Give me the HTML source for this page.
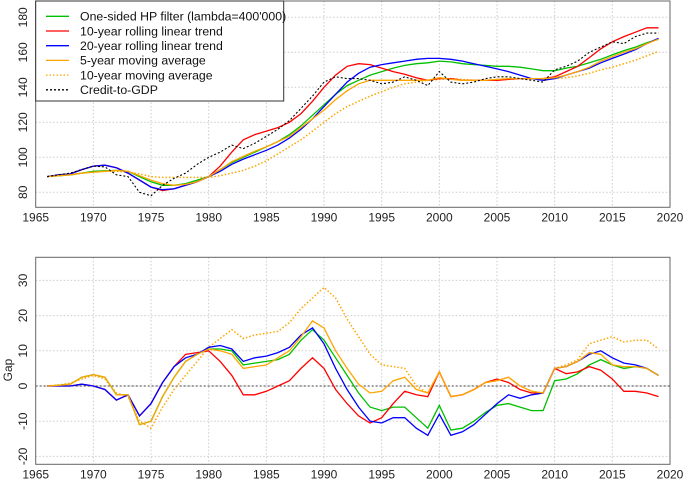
<!DOCTYPE html>
<html><head><meta charset="utf-8"><style>
body{margin:0;background:#fff}
svg{display:block;font-family:"Liberation Sans",sans-serif}
</style></head><body>
<svg id="c" width="685" height="481" viewBox="0 0 685 481"></svg>
<script>
const years=[];for(let y=1966;y<=2019;y++)years.push(y);
const xTicks=[1965,1970,1975,1980,1985,1990,1995,2000,2005,2010,2015,2020];
const yTicksTop=[80,100,120,140,160,180];
const yTicksBot=[-20,-10,0,10,20,30];
// Top panel (levels)
const credit=[89,90,91,93,95,94.5,90,89,80,78,84,88,91,96,100,103,107,105,108,112,116,121,128,135,143,146,145,145,144,142,143,146,144,141,149,143,142,143,145,146,146,145,144,143,150,152,155,160,163,166,165,169,171,171];
const hpTrend=[89,89.5,90,91,92,92.3,92.5,92,89,86,84,84,85,87,89,93,97,100,103,106,109,113,118,124,130,136,141,144,147,149,151,152.5,153.5,154,155,154.5,153.5,153,152.5,152,152,151.5,150.5,149.5,149.5,151,152,154,156,158.5,161,163,165.5,167.5];
const rl10Trend=[89,90,90.5,93,95,95.5,94,91,87,83,81,82,84,86,89,95,103,110,113,115,117,120,125,132,140,147,152,153.5,153,151,149,147.5,145.5,144,145,145,144,144,144,144,144.5,145,145,145,146,149,152,157,162,166,169,171.5,174,174];
const rl20Trend=[89,90,90.5,93,95,95.5,94,91,87,83,81.5,82,84,86,89,92,96,99,101.5,104,107,111,116,122,129,136,143,148,151.5,153,154,155,156,156.5,156.5,156,155,153.5,152,150.5,149,147,145,144,145,147,149,151,154,156.5,159,161.5,165,168];
const ma5Trend=[89,89.5,90,91,91.5,92,92.5,92,89.5,87,85,84,84.5,86,89,93,97.5,100.5,103.5,106,109,112,117,122,127,133,138,142,144,144,144,144,144,144,145.5,144.5,144,144,144,144.5,145,145,145,145,145.5,147,149,151.5,155,157.5,160,162,165,167.5];
const ma10Trend=[89,89.5,90,91,91.5,92,92,91.5,90.5,89,88.5,88.5,88.5,88.5,88.5,89.5,91,92.5,95,98,102,106,110,115,120,125,129,132,135,137.5,140,142,143,144,144.5,145,144.5,144,144,144,144.5,145,145,145,145,145.5,146.5,148,150,151.5,153.5,155.5,158,160.5];
// Bottom panel (gaps)
const hpGap=[0,0.2,0.5,2.5,3.2,2.5,-2.5,-2.5,-11,-10,-3,2.5,7,9,10.5,10.5,10,6,6.5,7,7.5,9,13,16,13,8,3,-2,-6,-7,-6,-6,-9,-12,-5.5,-12.5,-12,-10,-7.5,-5.5,-5,-6,-7,-7,1.5,2,3.5,6,7.5,6,5,5.5,5,3];
const rl10Gap=[0,0,0,0.5,0,-1,-4,-2.5,-8.5,-5,1,5.5,9,9.5,10,7,3,-2.5,-2.5,-1.5,0,1.5,5,8,5,-1,-5,-8.5,-10.5,-9,-5,-1.5,-2.5,-3,4,-3,-2.5,-1,1,2,1,-1,-2,-2,5,3.5,4,5.5,4.5,2,-1.5,-1.5,-2,-3];
const rl20Gap=[0,0,0,0.5,0,-1,-4,-2.5,-8.5,-5,1,5.5,8,9,11,11.5,10.5,7,8,8.5,9.5,11,14.5,16.5,12,5,-1,-6,-10,-10.5,-9,-9,-12,-14,-8,-14,-13,-11,-8,-5,-2.5,-3.5,-2.5,-2,5,5.5,7,9,10,8,6.5,6,5,3];
const ma5Gap=[0,0.2,0.5,2.5,3.2,2.5,-2.5,-2.5,-11,-10,-3,2.5,7,9,10.5,10,9,5,5.5,6,8,10,14,18.5,16.5,10,5,0.5,-2,-1.5,1.5,2.5,-1,-2,4,-3,-2.5,-1,1,1.5,2.5,0,-1.5,-2,5,5.5,7,9.5,9,6,5.5,5.5,5,3];
const ma10Gap=[0,0.3,0.8,2,3,2,-2,-3,-10,-12,-6,-1,3,7,11,13.5,16,13.5,14.5,15,15.5,18,22,25,28,25,19,14,9,6,5.5,5,0,-2,4,-3,-2.5,-1,1,1.5,2.5,0,-1.5,-2,5,6,7.5,12,13,14,12.5,13,13,10.5];

const NS='http://www.w3.org/2000/svg';
const svg=document.getElementById('c');
function mk(tag,at,parent){const e=document.createElementNS(NS,tag);for(const k in at)e.setAttribute(k,at[k]);(parent||svg).appendChild(e);return e;}
const X0=35.7,X1=670;
const xs=y=>X0+(y-1965)*(X1-X0)/55;
function panel(name,top,bottom,yScale,ticks,series,zeroLine,ylab){
  const g=mk('g',{});
  
  
  xTicks.forEach(t=>{if(t>1965&&t<2020){const l=mk('line',{x1:xs(t),x2:xs(t),y1:top,y2:bottom,stroke:'#ccc','stroke-dasharray':'1.5,2','stroke-width':1},g);}});
  ticks.forEach(t=>{const l=mk('line',{x1:X0,x2:X1,y1:yScale(t),y2:yScale(t),stroke:'#ccc','stroke-dasharray':'1.5,2','stroke-width':1},g);
    const tx=mk('text',{x:0,y:0,transform:`translate(27,${yScale(t)}) rotate(-90)`,'text-anchor':'middle','font-size':12,fill:'#222'},g);tx.textContent=t;});
  xTicks.forEach(t=>{const tx=mk('text',{x:xs(t),y:bottom+14,'text-anchor':'middle','font-size':12,fill:'#222'},g);tx.textContent=t;});
  if(zeroLine){const z=mk('line',{x1:X0,x2:X1,y1:yScale(0),y2:yScale(0),stroke:'#444','stroke-dasharray':'2,2','stroke-width':1},g);}
  series.forEach(s=>{const d=s.v.map((v,i)=>(i?'L':'M')+xs(years[i]).toFixed(1)+','+yScale(v).toFixed(1)).join('');
    const p=mk('path',{d,fill:'none',stroke:s.c,'stroke-width':s.w||1.3,'stroke-dasharray':s.dash||'none'},g);});
  const b=mk('rect',{x:X0,y:top,width:X1-X0,height:bottom-top,fill:'none',stroke:'#666','stroke-width':1},g);
  if(ylab){const t=mk('text',{x:0,y:0,transform:`translate(12,${ylab}) rotate(-90)`,'text-anchor':'middle','font-size':12,fill:'#222'},g);t.textContent='Gap';}
}
const yTop=v=>192.3-(v-80)*(35/20);
const yBot=v=>386-v*3.52;
panel('levels-panel',1,207.3,yTop,yTicksTop,[
 {n:'ma10-trend-line',v:ma10Trend,c:'#ffa500',dash:'1.5,2',w:1.5},
 {n:'hp-trend-line',v:hpTrend,c:'#00c000'},
 {n:'rl10-trend-line',v:rl10Trend,c:'#ff0000'},
 {n:'rl20-trend-line',v:rl20Trend,c:'#0000ff'},
 {n:'ma5-trend-line',v:ma5Trend,c:'#ffa500'},
 {n:'credit-to-gdp-line',v:credit,c:'#000',dash:'2,2',w:1.1}],false,null);
panel('gap-panel',257.3,464.3,yBot,yTicksBot,[
 {n:'ma10-gap-line',v:ma10Gap,c:'#ffa500',dash:'1.5,2',w:1.5},
 {n:'hp-gap-line',v:hpGap,c:'#00c000'},
 {n:'rl10-gap-line',v:rl10Gap,c:'#ff0000'},
 {n:'rl20-gap-line',v:rl20Gap,c:'#0000ff'},
 {n:'ma5-gap-line',v:ma5Gap,c:'#ffa500'}],true,370);
// legend
const lg=mk('g',{});


mk('rect',{x:X0,y:1,width:248,height:100,fill:'#fff',stroke:'#333','stroke-width':1},lg);
const items=[['One-sided HP filter (lambda=400\'000)','#00c000','none'],['10-year rolling linear trend','#ff0000','none'],['20-year rolling linear trend','#0000ff','none'],['5-year moving average','#ffa500','none'],['10-year moving average','#ffa500','1.5,2'],['Credit-to-GDP','#000','2,2']];
items.forEach((it,i)=>{const y=16.3+i*14.7;
 const e=mk('g',{},lg);
 
 
 mk('line',{x1:46,x2:69,y1:y,y2:y,stroke:it[1],'stroke-width':1.3,'stroke-dasharray':it[2]},e);
 const t=mk('text',{x:80,y:y+4.3,'font-size':12.3,fill:'#111'},e);t.textContent=it[0];});
</script>
</body></html>
